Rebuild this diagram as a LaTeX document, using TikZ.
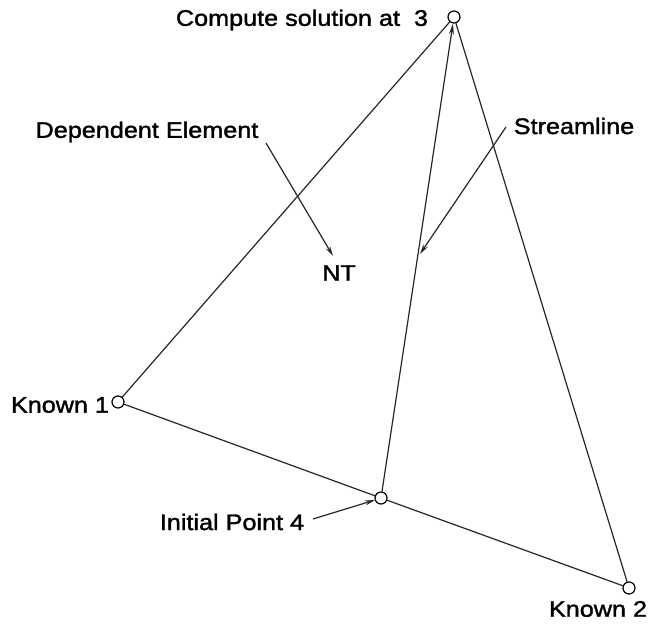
\documentclass[tikz,border=0pt]{standalone}
\usepackage{fontspec}
\setmainfont[FakeStretch=1.12,FakeBold=1.6]{Liberation Sans}
\usetikzlibrary{arrows.meta}
\begin{document}
\begin{tikzpicture}[x=1pt,y=-1pt,
  lbl/.style={font=\fontsize{22.5}{26}\selectfont, inner sep=0pt},
  pt/.style={circle, draw, line width=1.2pt, minimum size=12pt, inner sep=0pt},
  edge/.style={line width=1.2pt, draw=black!85},
  pointer/.style={line width=1.2pt, draw=black!85, -{Stealth[length=10pt,width=5pt]}}]
\useasboundingbox (0,0) rectangle (649,629);
\node[pt] (p3) at (454,17) {};
\node[pt] (k1) at (118,402) {};
\node[pt] (k2) at (629,588) {};
\node[pt] (p4) at (381,498) {};
\draw[edge] (k1) -- (p3);
\draw[edge] (p3) -- (k2);
\draw[edge] (k1) -- (p4);
\draw[edge] (p4) -- (k2);
\draw[edge, -{Stealth[length=11pt,width=5pt]}] (p4) -- (p3);
\node[lbl] (t3) at (302,20) {Compute solution at\ \ 3};
\node[lbl] (tk1) at (60,405) {Known 1};
\node[lbl] (tk2) at (598,609) {Known 2};
\node[lbl] (tdep) at (147,132) {Dependent Element};
\node[lbl] (tnt) at (339,273) {NT};
\node[lbl] (tsl) at (574,126) {Streamline};
\node[lbl] (tp4) at (232,522) {Initial Point 4};
\coordinate (depS) at (266,143);
\coordinate (depE) at (333,256);
\coordinate (slS) at (506,127);
\coordinate (slE) at (420,254);
\coordinate (ipS) at (313,519);
\coordinate (ipE) at (375,500);
\draw[pointer] (depS) -- (depE);
\draw[pointer] (slS) -- (slE);
\draw[pointer] (ipS) -- (ipE);
\end{tikzpicture}
\end{document}
